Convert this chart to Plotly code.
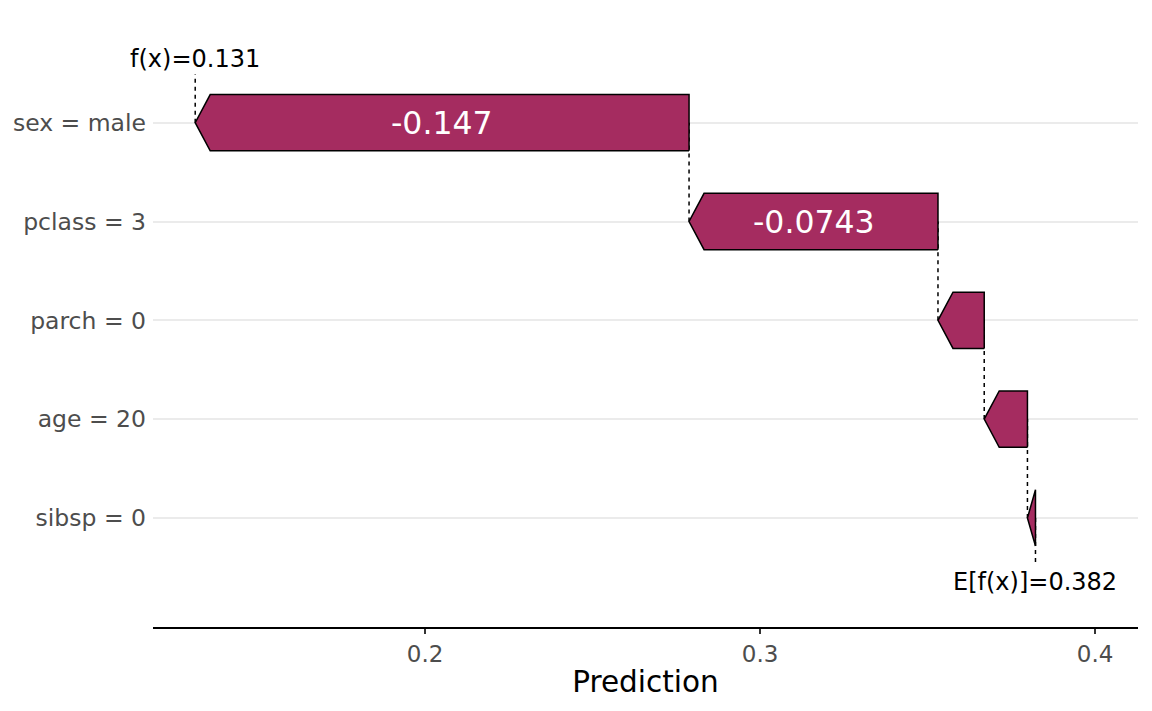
import plotly.graph_objects as go

# SHAP waterfall: one prediction, features sorted by |shap|
features = ["sex = male", "pclass = 3", "parch = 0", "age = 20", "sibsp = 0"]
shap_values = [-0.1474, -0.0743, -0.0138, -0.0129, -0.0024]
baseline = 0.3822
prediction = 0.1314

bar_color = "#A52C60"
font = "DejaVu Sans"

W, H = 1152, 711
# the page body adds an 8px offset, so margins are shifted to compensate
margin = dict(l=145, r=22, t=6, b=92)
x_range = [0.1188, 0.4128]
y_range = [-0.104, 6.1]
px_per_x = (W - margin["l"] - margin["r"]) / (x_range[1] - x_range[0])
head = 15 / px_per_x      # arrow head length, ~15 px
half_h = 0.285            # half bar height in row units

# bottom row starts at the baseline, walk upwards
rows = list(zip(features, shap_values))[::-1]
ypos = list(range(1, len(rows) + 1))
starts, ends = [], []
cur = baseline
for _, v in rows:
    starts.append(cur)
    cur = cur + v
    ends.append(cur)

dash_line = dict(color="black", width=1.5, dash="4px,4px")
fig = go.Figure()

# dashed connectors between rows
for i in range(len(rows) - 1):
    fig.add_trace(go.Scatter(
        x=[ends[i], ends[i]], y=[ypos[i], ypos[i + 1]], mode="lines",
        line=dash_line, hoverinfo="skip", showlegend=False))
# to the f(x) label and to the E[f(x)] label
fig.add_trace(go.Scatter(
    x=[ends[-1], ends[-1]], y=[ypos[-1], ypos[-1] + 0.49], mode="lines",
    line=dash_line, hoverinfo="skip", showlegend=False))
fig.add_trace(go.Scatter(
    x=[baseline, baseline], y=[ypos[0], ypos[0] - 0.48], mode="lines",
    line=dash_line, hoverinfo="skip", showlegend=False))

# arrow shaped bars
total = max(abs(v) for v in shap_values)
for (name, v), y, s, e in zip(rows, ypos, starts, ends):
    d = 1 if e > s else -1
    h = min(head, abs(e - s))
    xs = [s, s, e - d * h, e, e - d * h, s]
    ys = [y - half_h, y + half_h, y + half_h, y, y - half_h, y - half_h]
    fig.add_trace(go.Scatter(
        x=xs, y=ys, mode="lines", fill="toself", fillcolor=bar_color,
        line=dict(color="black", width=1.5), hoverinfo="skip",
        showlegend=False))
    if abs(v) > 0.3 * total:
        fig.add_annotation(x=(s + e) / 2, y=y, text=f"{v:.3g}",
                           showarrow=False,
                           font=dict(family=font, size=31.5, color="white"))

fig.add_annotation(x=prediction, y=5.64, text=f"f(x)={prediction:.3g}",
                   showarrow=False, font=dict(family=font, size=24, color="black"))
fig.add_annotation(x=baseline, y=0.35, text=f"E[f(x)]={baseline:.3g}",
                   showarrow=False, font=dict(family=font, size=24, color="black"))

fig.update_layout(
    width=W, height=H, margin=margin,
    plot_bgcolor="white", paper_bgcolor="white",
    font=dict(family=font),
    xaxis=dict(range=x_range, showgrid=False, zeroline=False,
               showline=True, linecolor="black", linewidth=2,
               ticks="outside", ticklen=5, tickwidth=2, tickcolor="#333333",
               tickvals=[0.2, 0.3, 0.4], ticktext=["0.2", "0.3", "0.4"],
               tickfont=dict(size=23, color="#4D4D4D"),
               title=dict(text="Prediction", font=dict(size=29.5, color="black"),
                          standoff=6)),
    yaxis=dict(range=y_range, tickvals=ypos, ticktext=[r[0] for r in rows],
               showgrid=True, gridcolor="#EBEBEB", gridwidth=2,
               zeroline=False, showline=False, ticks="",
               ticklabelstandoff=6,
               tickfont=dict(size=23.5, color="#4D4D4D")),
)

fig.write_html("out.html")
